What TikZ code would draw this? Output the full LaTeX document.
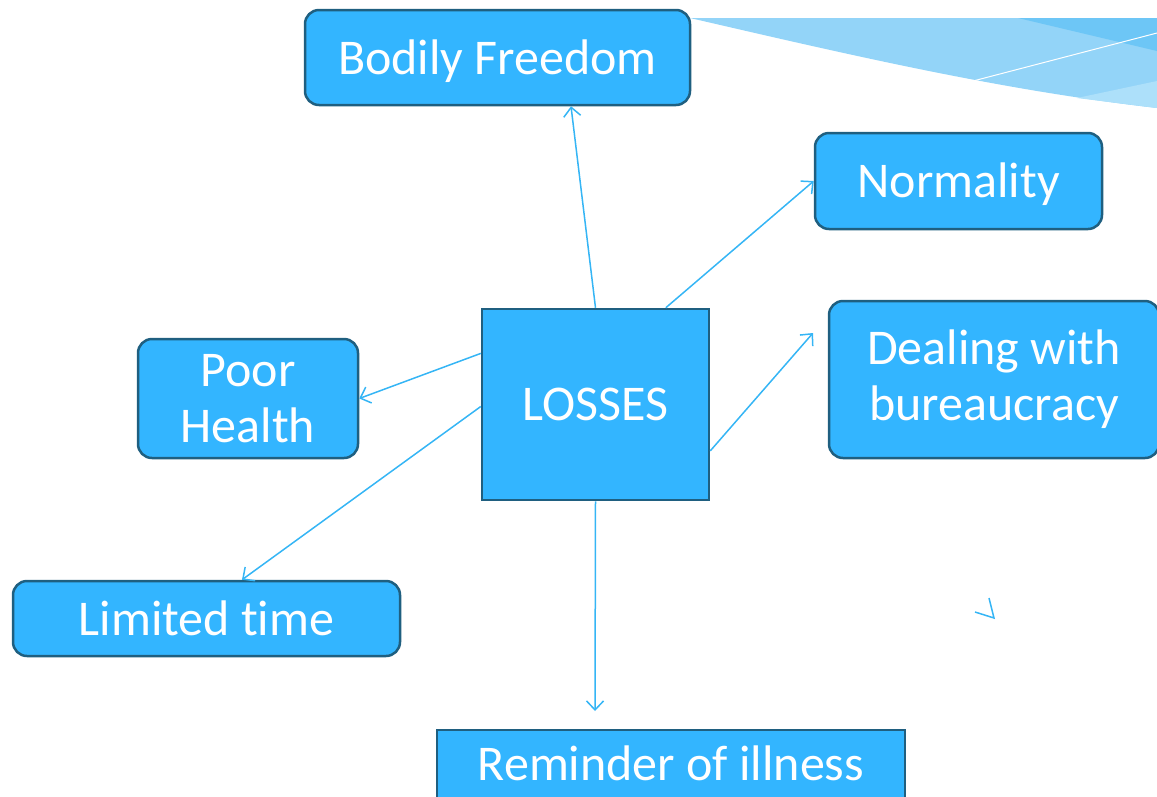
\documentclass[tikz,border=0pt]{standalone}
\usepackage{fontspec}
\setmainfont{Carlito}[Ligatures=NoCommon]
\usetikzlibrary{arrows.meta}
\definecolor{boxblue}{HTML}{33B5FF}
\definecolor{boxline}{HTML}{1F5F80}
\definecolor{arrowblue}{HTML}{35B5F5}
\definecolor{waveA}{HTML}{93D4F8}
\definecolor{waveB}{HTML}{6DC6F6}
\definecolor{waveC}{HTML}{ADE0FA}

\begin{document}
\begin{tikzpicture}[x=1pt,y=-1pt,
    loss/.style={draw=boxline, line width=2.5pt, fill=boxblue, text=white,
        font=\fontsize{50}{56}\selectfont, align=center, inner sep=0pt},
    roundbox/.style={loss, rounded corners=14pt},
    oneline/.style={text height=33pt, text depth=0pt},
    link/.style={arrowblue, line width=1.5pt, -{Straight Barb[length=9pt,width=17pt]}}]
        \useasboundingbox (0,0) rectangle (1157,796);
        \begin{scope}
        \clip (0,0) rectangle (1157,796);

        % Corner decoration
        \fill[waveA] (690,18) -- (1157,18) -- (1157,108) .. controls (1000,90) and (850,55) .. (690,18) -- cycle;
        \fill[waveB] (1018,18) -- (1157,18) -- (1157,51) -- cycle;
        \fill[waveC] (1077,98) -- (1157,81) -- (1157,108) -- cycle;
        \draw[white, line width=1pt] (973,81) -- (1157,33);

        % Boxes
        \node[loss, minimum width=227pt, minimum height=191pt] (losses) at (595.5,404.5) {LOSSES};
        \node[roundbox, oneline, minimum width=385pt, minimum height=95pt] (bodily) at (497.5,57.5) {Bodily Freedom};
        \node[roundbox, oneline, minimum width=287pt, minimum height=96pt] (normal) at (958.5,181) {Normality};
        \node[roundbox, minimum width=220pt, minimum height=119pt] (poor) at (248,398.5) {Poor\\Health};
        \node[roundbox, minimum width=330pt, minimum height=157pt] (bureau) at (994,379.5) {Dealing with\\bureaucracy};
        \node[roundbox, oneline, minimum width=387pt, minimum height=75pt] (limited) at (206.5,618.5) {Limited time};
        \node[loss, minimum width=468pt, minimum height=100pt] (remind) at (671,780) {};
        \node[text=white, font=\fontsize{50}{56}\selectfont, oneline] (remindtext) at (671,764) {Reminder of illness};

        % Arrows
        \coordinate (endB) at (813,333);
        \coordinate (endR) at (595,711);
        \coordinate (stray) at (994,618);
        \draw[link] (losses.north) -- ([xshift=73.5pt]bodily.south);
        \draw[link] (losses.54.7) -- (normal.west);
        \draw[link] (losses.156.9) -- (poor.east);
        \draw[link] (losses.181) -- ([xshift=35.5pt]limited.north);
        \draw[link] (losses.338.6) -- (endB);
        \draw[link] (losses.south) -- (endR);
        \draw[arrowblue, line width=1.5pt] ([shift={(-19pt,6pt)}]stray) -- (stray) -- ([shift={(-5pt,20pt)}]stray);
        \end{scope}
    \end{tikzpicture}
\end{document}
